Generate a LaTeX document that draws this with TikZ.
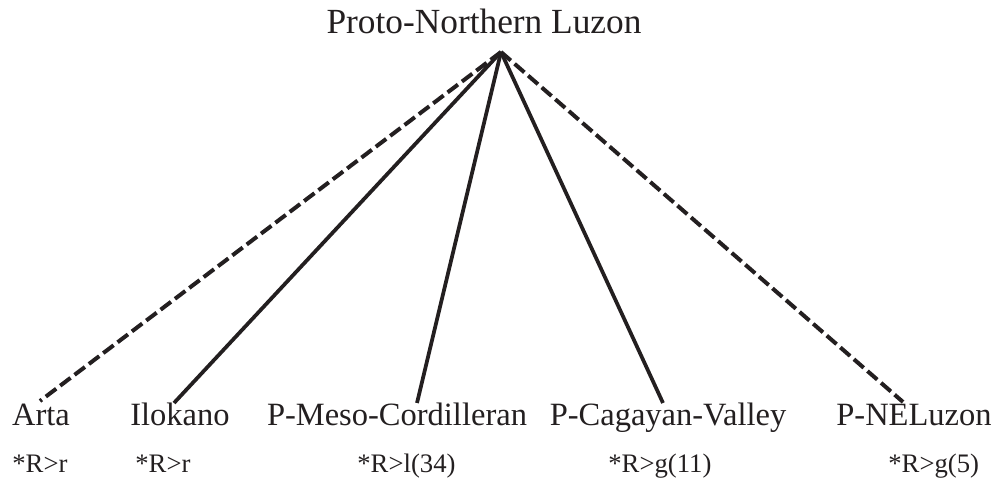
\documentclass[tikz,border=0pt]{standalone}
\usepackage{fontspec}
\setmainfont{Liberation Serif}
\definecolor{ink}{RGB}{35,31,32}
\begin{document}
\begin{tikzpicture}[x=0.02cm,y=-0.02cm,
  lbl/.style={inner sep=0pt,anchor=base,text=ink,font=\fontsize{18.5}{20}\selectfont},
  toplbl/.style={inner sep=0pt,anchor=base,text=ink,font=\fontsize{20.1}{22}\selectfont},
  rule/.style={inner sep=0pt,anchor=base west,text=ink,font=\fontsize{15.2}{17}\selectfont},
  solidline/.style={draw=ink,line width=0.075cm},
  dashline/.style={draw=ink,line width=0.08cm,dash pattern=on 0.26cm off 0.1cm}]
\useasboundingbox (0,0) rectangle (1000,482);
\node[toplbl] (top) at (484,34) {Proto-Northern Luzon};
\coordinate (apex) at (501,52);
\node[lbl] (arta) at (41,425) {Arta};
\node[lbl] (ilok) at (180,425) {Ilokano};
\node[lbl] (meso) at (397,425) {P-Meso-Cordilleran};
\node[lbl] (caga) at (668,425) {P-Cagayan-Valley};
\node[lbl] (nel) at (914,425) {P-NELuzon};
\node[rule] (r1) at (12,472) {*R>r};
\node[rule] (r2) at (135,472) {*R>r};
\node[rule] (r3) at (357,472) {*R>l(34)};
\node[rule] (r4) at (608,472) {*R>g(11)};
\node[rule] (r5) at (888,472) {*R>g(5)};
\coordinate (e1) at (40,401);
\coordinate (e2) at (174,403);
\coordinate (e3) at (417,403);
\coordinate (e4) at (663,403);
\coordinate (e5) at (903,402);
\draw[dashline] (apex) -- (e1);
\draw[solidline] (apex) -- (e2);
\draw[solidline] (apex) -- (e3);
\draw[solidline] (apex) -- (e4);
\draw[dashline] (apex) -- (e5);
\end{tikzpicture}
\end{document}
